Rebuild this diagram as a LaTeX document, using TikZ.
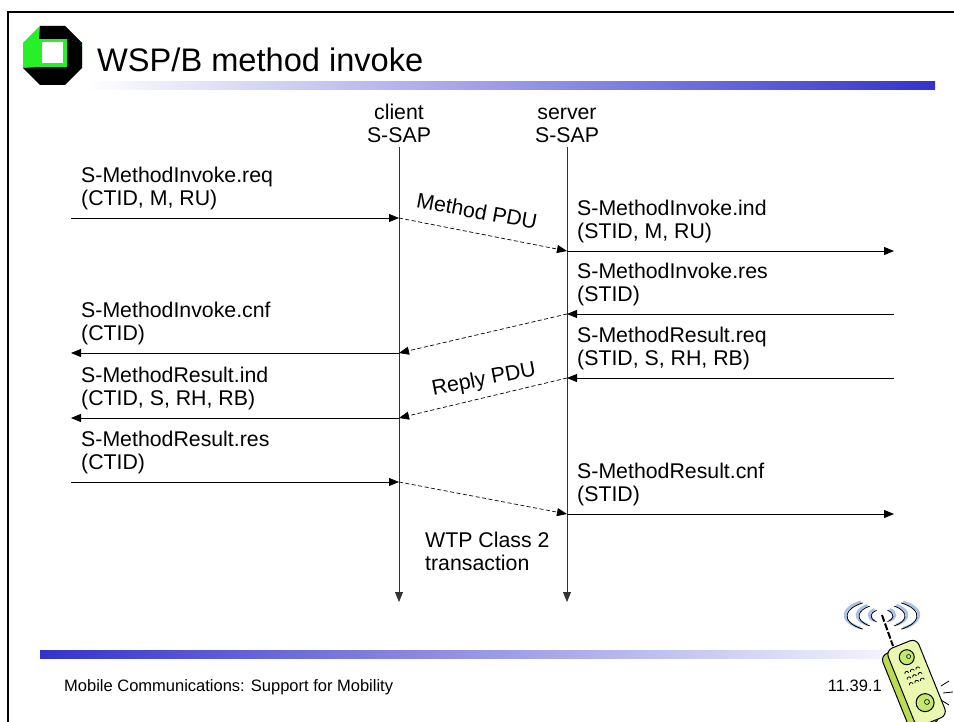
\documentclass[tikz,border=0pt]{standalone}
\usepackage{fontspec}
\setmainfont{Liberation Sans}
\usetikzlibrary{arrows.meta}
\definecolor{barblue}{RGB}{51,51,204}
\definecolor{logogreen}{RGB}{40,240,40}
\definecolor{phoneface}{RGB}{234,248,176}
\definecolor{phoneside}{RGB}{186,220,80}
\definecolor{phonebtn}{RGB}{196,232,110}
\definecolor{wave}{RGB}{165,195,232}
\newcommand{\bodyfont}{\fontsize{21.3}{23}\selectfont}
\begin{document}
\begin{tikzpicture}[x=1pt,y=-1pt,
  lbl/.style={font=\bodyfont, align=left, inner sep=0pt, anchor=south west},
  sap/.style={font=\bodyfont, align=center, inner sep=0pt, anchor=south},
  pdulbl/.style={font=\bodyfont, inner sep=0pt},
  msg/.style={-{Triangle[length=10pt,width=8pt]}, line width=0.9pt},
  pdu/.style={-{Triangle[length=10pt,width=8pt]}, line width=0.7pt, dash pattern=on 4pt off 2.5pt},
  lifeline/.style={-{Triangle[length=10pt,width=8pt]}, line width=0.8pt, draw=black!80},
  wavestroke/.style={wave, line width=2.6pt},
  waveline/.style={black, line width=0.8pt}]
\useasboundingbox (0,0) rectangle (954,722);
\fill[white] (0,0) rectangle (954,722);

% slide frame
\draw[line width=1.5pt] (8,722) -- (8,12) -- (954,12);

% logo: octagonal frame with a square opening
\fill[logogreen] (40,26) -- (65,26) -- (82,43) -- (82,68) -- (65,85) -- (40,85) -- (23,68) -- (23,43) -- cycle;
\fill[black] (40,26) -- (65,26) -- (82,43) -- (67,39) -- (39,39) -- cycle;
\fill[black] (82,43) -- (82,68) -- (65,85) -- (40,85) -- (23,68) -- (39,67) -- (67,67) -- (67,39) -- cycle;
\fill[logogreen] (39,67) -- (67,67) -- (67,39) -- cycle;
\fill[white] (42,42) rectangle (63,63);

% title and header bar
\node[font=\fontsize{32.6}{36}\selectfont, inner sep=0pt, anchor=base west] (title) at (97,72) {WSP/B method invoke};
\shade[left color=white, right color=barblue] (85,82) rectangle (935,90);

% service access points
\node[sap] (clientsap) at (399,143) {client\\S-SAP};
\node[sap] (serversap) at (567,143) {server\\S-SAP};

\coordinate (ctop) at (399,147);
\coordinate (cbot) at (399,602);
\coordinate (stop) at (567,147);
\coordinate (sbot) at (567,602);
\draw[lifeline] (ctop) -- (cbot);
\draw[lifeline] (stop) -- (sbot);

% points on the lifelines and outer ends
\coordinate (c1) at (399,218);
\coordinate (s1) at (567,251);
\coordinate (s2) at (567,314);
\coordinate (c2) at (399,353);
\coordinate (s3) at (567,378);
\coordinate (c3) at (399,418);
\coordinate (c4) at (399,482);
\coordinate (s4) at (567,514);
\coordinate (l1) at (71,218);
\coordinate (l2) at (71,353);
\coordinate (l3) at (71,418);
\coordinate (l4) at (71,482);
\coordinate (r1) at (894,251);
\coordinate (r2) at (894,314);
\coordinate (r3) at (894,378);
\coordinate (r4) at (894,514);

% primitives
\draw[msg] (l1) -- (c1);
\draw[msg] (s1) -- (r1);
\draw[msg] (r2) -- (s2);
\draw[msg] (c2) -- (l2);
\draw[msg] (r3) -- (s3);
\draw[msg] (c3) -- (l3);
\draw[msg] (l4) -- (c4);
\draw[msg] (s4) -- (r4);

% protocol data units
\draw[pdu] (c1) -- (s1);
\draw[pdu] (s2) -- (c2);
\draw[pdu] (s3) -- (c3);
\draw[pdu] (c4) -- (s4);
\node[pdulbl, rotate=-10.5] (methodpdu) at (477,211) {Method PDU};
\node[pdulbl, rotate=11] (replypdu) at (484,380) {Reply PDU};

% labels
\node[lbl] (invreq) at (81,210) {S-MethodInvoke.req\\(CTID, M, RU)};
\node[lbl] (invind) at (577,243) {S-MethodInvoke.ind\\(STID, M, RU)};
\node[lbl] (invres) at (577,306) {S-MethodInvoke.res\\(STID)};
\node[lbl] (invcnf) at (81,345) {S-MethodInvoke.cnf\\(CTID)};
\node[lbl] (resreq) at (577,370) {S-MethodResult.req\\(STID, S, RH, RB)};
\node[lbl] (resind) at (81,410) {S-MethodResult.ind\\(CTID, S, RH, RB)};
\node[lbl] (resres) at (81,474) {S-MethodResult.res\\(CTID)};
\node[lbl] (rescnf) at (577,506) {S-MethodResult.cnf\\(STID)};
\node[lbl] (wtp) at (425,571) {WTP Class 2\\transaction};

% footer
\shade[left color=barblue, right color=white] (40,650) rectangle (935,658);
\node[font=\fontsize{16.5}{19}\selectfont, inner sep=0pt, anchor=base west] (footer) at (64,691) {Mobile Communications: Support for Mobility};
\node[font=\fontsize{16.5}{19}\selectfont, inner sep=0pt, anchor=base east] (pageno) at (882,691) {11.39.1};

% radio waves round the antenna tip
\foreach \a/\b in {13/7, 25/12, 37/16} {
  \draw[wavestroke] (882,615) ++(125:{\a} and {\b}) arc[start angle=125, end angle=235, x radius=\a, y radius=\b];
  \draw[wavestroke] (882,615) ++(-55:{\a} and {\b}) arc[start angle=-55, end angle=55, x radius=\a, y radius=\b];
  \draw[waveline] (884,616) ++(125:{\a} and {\b}) arc[start angle=125, end angle=235, x radius=\a, y radius=\b];
  \draw[waveline] (880,616) ++(-55:{\a} and {\b}) arc[start angle=-55, end angle=55, x radius=\a, y radius=\b];
}
% antenna
\draw[line width=2pt, dash pattern=on 7pt off 2pt] (882,615) -- (893,646);
% handset
\begin{scope}[shift={(915,683)}, rotate=22]
  \draw[fill=phoneside, line width=1pt, rounded corners=7pt] (-22,-38) rectangle (10,44);
  \draw[fill=phoneface, line width=1pt, rounded corners=7pt] (-15,-41) rectangle (18,42);
  \draw[fill=phonebtn, line width=1pt] (2,-27) circle (7.5);
  \draw[line width=0.6pt] (4,-27) circle (2);
  \draw[fill=phonebtn, line width=1pt] (2,22) circle (9);
  \draw[line width=0.6pt] (4,22) circle (2.5);
  \foreach \i in {-1,0,1} \foreach \j in {0,1,2} {
    \draw[line width=0.8pt] ({2+6*\i+2},{-12+6*\j}) arc[start angle=0, end angle=-180, radius=2];
  }
\end{scope}
\draw[line width=0.8pt] (941,686) -- (949,681);
\draw[line width=0.8pt] (943,693) -- (953,692);
\draw[line width=0.8pt] (941,700) -- (949,705);
\end{tikzpicture}
\end{document}
